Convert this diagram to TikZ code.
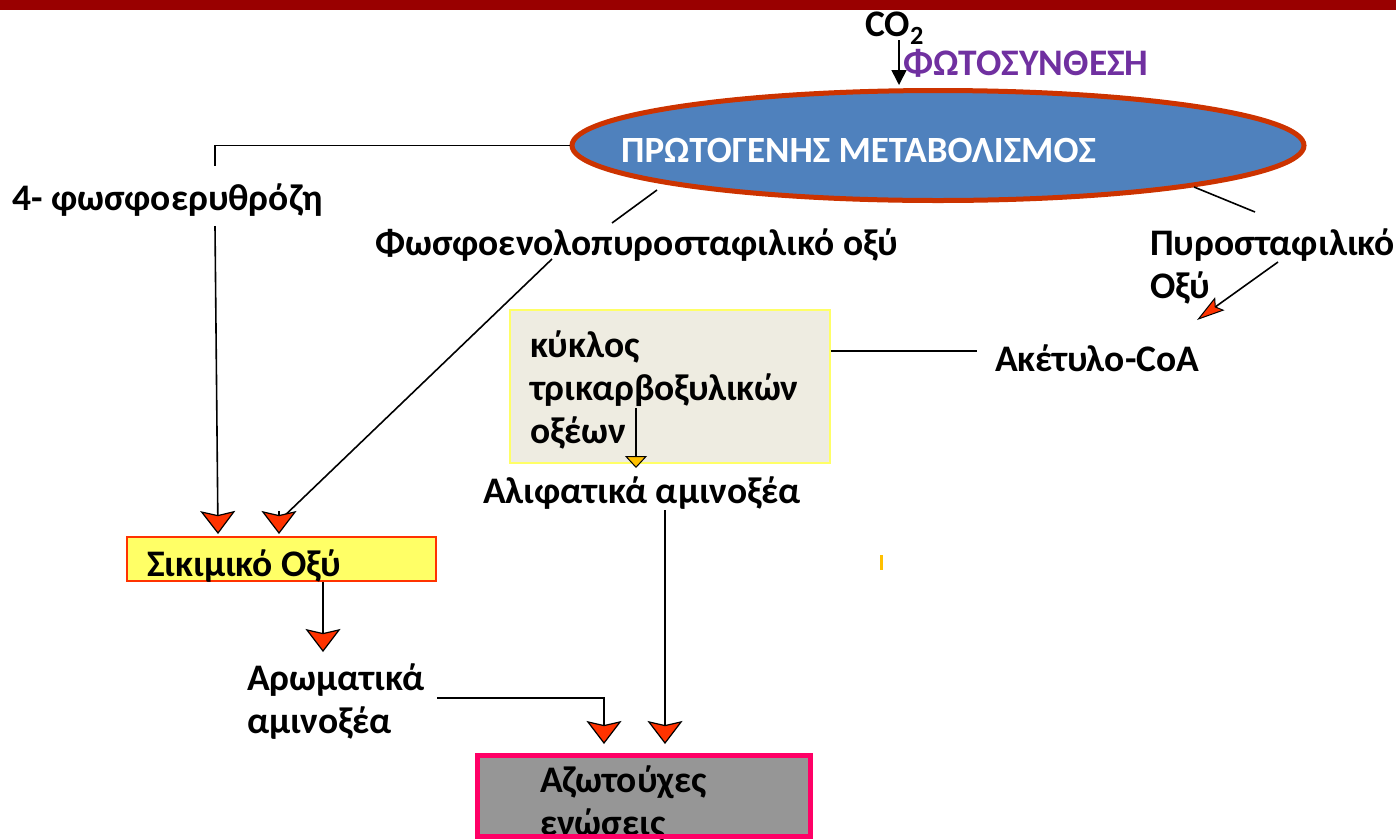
\documentclass[tikz,border=0pt]{standalone}
\usepackage{fontspec}
\setmainfont{Carlito}
\usetikzlibrary{arrows.meta,shapes.geometric}
\definecolor{topred}{HTML}{990000}
\definecolor{ellred}{HTML}{CC3300}
\definecolor{ellblue}{HTML}{4F81BD}
\definecolor{tipred}{HTML}{FF3300}
\definecolor{tipyel}{HTML}{FFC000}
\definecolor{boxbeige}{HTML}{EEECE1}
\definecolor{boxyel}{HTML}{FFFF66}
\definecolor{purp}{HTML}{7030A0}
\definecolor{azgray}{HTML}{969696}
\definecolor{azpink}{HTML}{FF0066}
\tikzset{
  lbl/.style={anchor=base west,inner sep=0pt,font=\fontsize{37.5}{43}\selectfont\bfseries,align=left},
  conn/.style={draw=black,line width=1.6pt},
  redarrow/.style={conn,-{Stealth[length=23pt,width=35pt,inset=4pt,fill=tipred,color=black,line width=1.2pt]}},
  smallred/.style={conn,-{Stealth[length=28pt,width=16pt,inset=5pt,fill=tipred,color=black,line width=1pt]}},
  yelarrow/.style={conn,-{Triangle[length=12pt,width=22pt,fill=tipyel,color=black,line width=1pt]}},
  blackarrow/.style={conn,-{Triangle[length=15pt,width=15pt]}},
}
\begin{document}
\begin{tikzpicture}[x=1pt,y=-1pt]
\useasboundingbox (0,0) rectangle (1396,839);
\fill[topred] (0,0) rectangle (1396,10);

% ellipse
\node[ellipse,draw=ellred,line width=5pt,fill=ellblue,minimum width=732pt,minimum height=110pt,inner sep=0pt] (pm) at (938,145.5) {};
\node[anchor=base west,inner sep=0pt,text=white,font=\fontsize{37}{43}\selectfont\bfseries] (pmtext) at (621,162) {ΠΡΩΤΟΓΕΝΗΣ ΜΕΤΑΒΟΛΙΣΜΟΣ};

% CO2 and photosynthesis
\node[lbl] (co2) at (865,36) {CO\textsubscript{2}};
\coordinate (co2s) at (899,40);
\coordinate (co2e) at (899,85);
\draw[blackarrow] (co2s) -- (co2e);
\node[lbl,text=purp] (phot) at (903,75) {ΦΩΤΟΣΥΝΘΕΣΗ};

% labels
\node[lbl] (ery) at (12,210) {4- φωσφοερυθρόζη};
\node[lbl] (pep) at (375,255) {Φωσφοενολοπυροσταφιλικό οξύ};
\node[lbl] (pyr) at (1150,298) {Πυροσταφιλικό\\Οξύ};
\node[lbl] (acoa) at (995,371) {Ακέτυλο-CoA};
\node[lbl] (ali) at (483,503) {Αλιφατικά αμινοξέα};
\node[lbl] (aro) at (247,733) {Αρωματικά\\αμινοξέα};

% TCA box
\node[draw=boxyel,fill=boxbeige,line width=1.5pt,minimum width=320pt,minimum height=153pt,inner sep=0pt] (tca) at (670,386.5) {};
\node[lbl] (tcatext) at (530,443) {κύκλος\\τρικαρβοξυλικών\\οξέων};

% shikimic box
\node[draw=tipred,fill=boxyel,line width=1.5pt,minimum width=309pt,minimum height=44pt,inner sep=0pt] (sik) at (281.5,559) {};
\node[lbl] (siktext) at (147,576) {Σικιμικό Οξύ};

% nitrogen box
\fill[azgray] (477.5,755.5) rectangle (810.5,836);
\node[lbl] (aztext) at (540,835) {Αζωτούχες\\ενώσεις};
\draw[azpink,line width=5pt] (477.5,755.5) rectangle (810.5,836);

% small yellow mark
\fill[tipyel] (880,555) rectangle (883,570);

% connectors
\coordinate (e1) at (215,166);
\draw[conn] (pm.west) -| (e1);
\coordinate (e2) at (215,226);
\coordinate (t1) at (218,534);
\draw[redarrow] (e2) -- (t1);

\coordinate (p1) at (657,190);
\coordinate (p2) at (612,223);
\draw[conn] (p1) -- (p2);
\coordinate (p3) at (552,259);
\coordinate (p4) at (278,522);
\coordinate (t2) at (279,534);
\draw[conn] (p3) -- (p4);
\draw[redarrow] (279,511) -- (t2);

\coordinate (r1) at (1194,187);
\coordinate (r2) at (1255,212);
\draw[conn] (r1) -- (r2);
\coordinate (r3) at (1278,262);
\coordinate (r4) at (1197,320);
\draw[smallred] (r3) -- (r4);

\coordinate (a1) at (977,351);
\draw[conn] (tca.east |- a1) -- (a1);

\coordinate (y1) at (636,408);
\coordinate (y2) at (636,468);
\draw[yelarrow] (y1) -- (y2);

\coordinate (l1) at (665,510);
\coordinate (l2) at (665,744);
\draw[redarrow] (l1) -- (l2);

\coordinate (m1) at (437,698);
\coordinate (m2) at (604,744);
\draw[redarrow] (m1) -| (m2);

\coordinate (s2) at (323,652);
\draw[redarrow] (sik.south -| s2) -- (s2);
\end{tikzpicture}
\end{document}
